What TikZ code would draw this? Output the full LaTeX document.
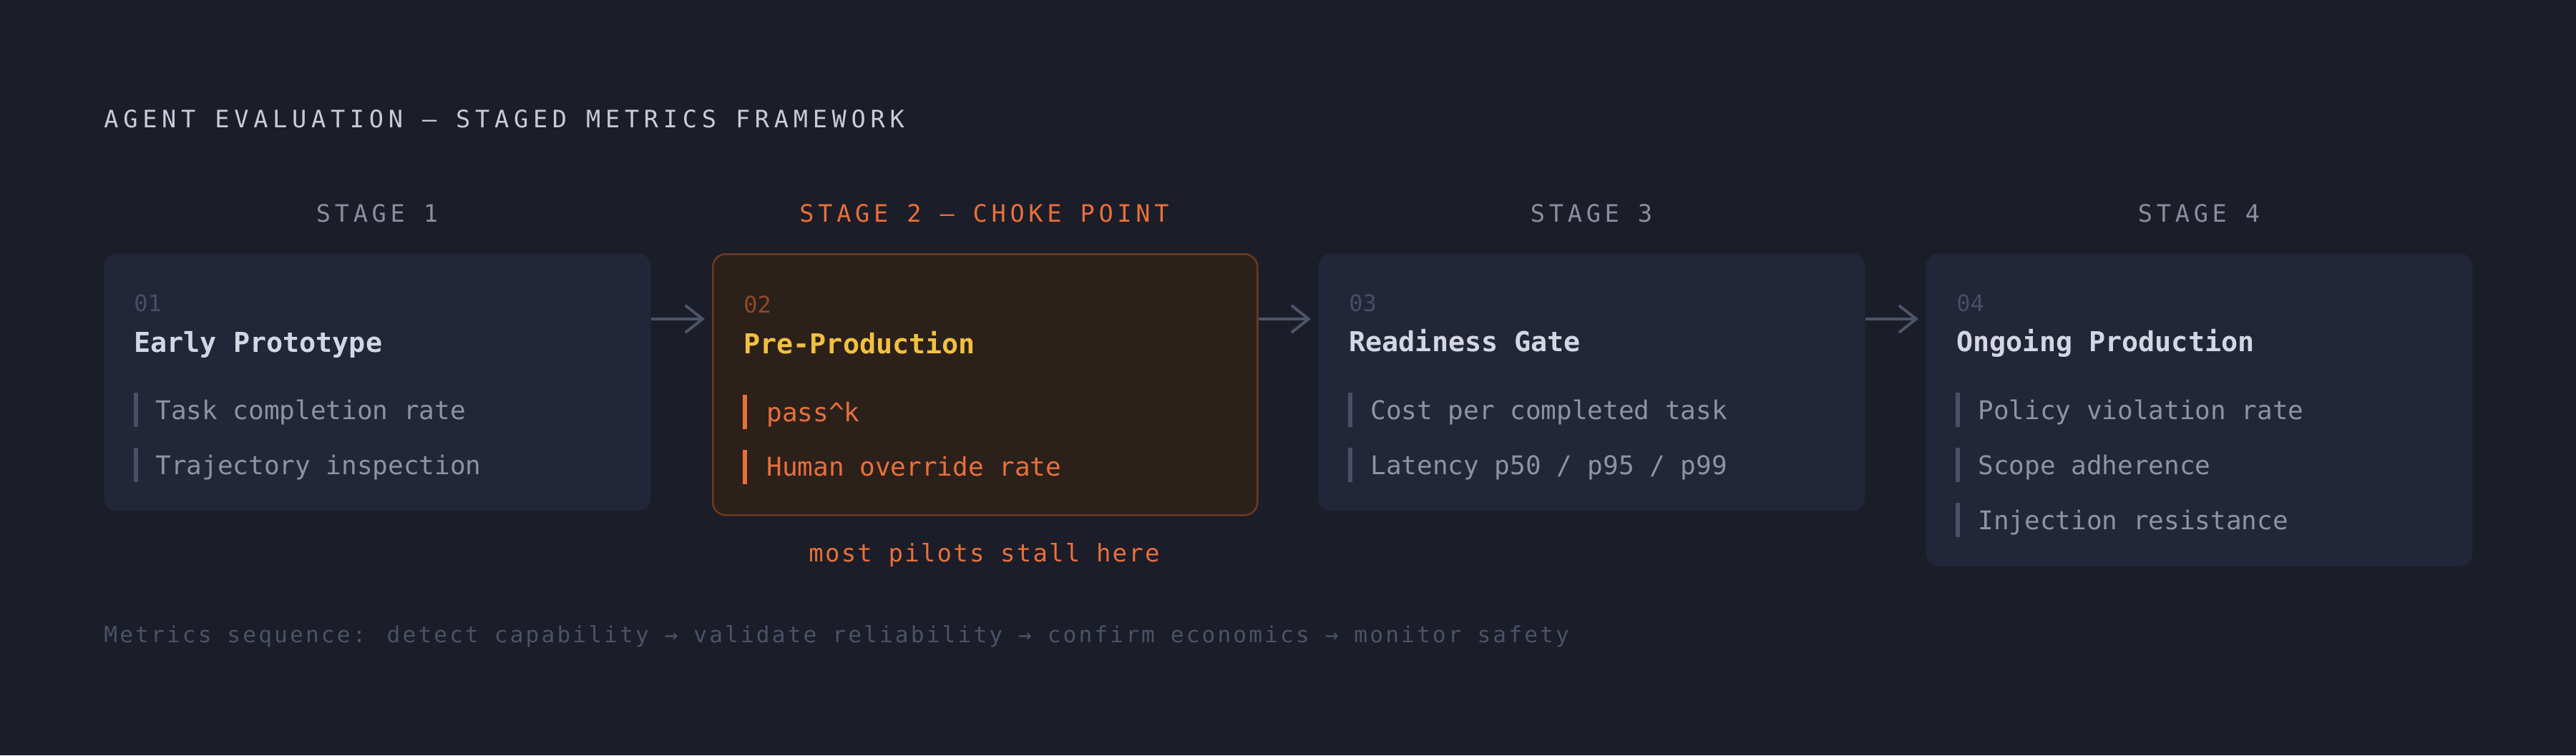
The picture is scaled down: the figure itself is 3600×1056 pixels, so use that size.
\documentclass[tikz,border=0pt]{standalone}
\usepackage{fontspec}
\usetikzlibrary{arrows.meta}
\newfontfamily\monoF{DejaVu Sans Mono}
\newfontfamily\monoTitle[LetterSpace=20]{DejaVu Sans Mono}
\newfontfamily\monoStage[LetterSpace=17]{DejaVu Sans Mono}
\newfontfamily\monoFoot[LetterSpace=10]{DejaVu Sans Mono}
\newfontfamily\monoNote[LetterSpace=6.5]{DejaVu Sans Mono}
\definecolor{bgc}{HTML}{1B1D29}
\definecolor{boxc}{HTML}{222639}
\definecolor{boxhot}{HTML}{2C201B}
\definecolor{borderhot}{HTML}{6E3A1E}
\definecolor{arrowc}{HTML}{4A5568}
\definecolor{titlec}{HTML}{C9CCD8}
\definecolor{stagec}{HTML}{8A8F9F}
\definecolor{orangec}{HTML}{E8703A}
\definecolor{numc}{HTML}{464F63}
\definecolor{numhot}{HTML}{8C4A26}
\definecolor{headc}{HTML}{D4D7E3}
\definecolor{headhot}{HTML}{F0C140}
\definecolor{itemc}{HTML}{8E93A4}
\definecolor{barc}{HTML}{4A5166}
\definecolor{footc}{HTML}{4A5366}
\tikzset{
  txt/.style={inner sep=0pt, anchor=base west},
  ctxt/.style={inner sep=0pt, anchor=base},
  titletext/.style={txt, text=titlec, font=\monoTitle\fontsize{16.8}{20}\selectfont},
  stagetext/.style={ctxt, text=stagec, font=\monoStage\fontsize{16.8}{20}\selectfont},
  stagehot/.style={stagetext, text=orangec},
  card/.style={draw=none, fill=boxc, rounded corners=9pt, anchor=north west, inner sep=0pt, minimum width=382pt},
  cardhot/.style={card, fill=boxhot, draw=borderhot, line width=1.25pt, minimum width=380.5pt},
  numtext/.style={txt, text=numc, font=\monoF\fontsize{16}{19}\selectfont},
  numhottext/.style={numtext, text=numhot},
  headtext/.style={txt, text=headc, font=\monoF\bfseries\fontsize{19.2}{23}\selectfont},
  headhottext/.style={headtext, text=headhot},
  itemtext/.style={txt, text=itemc, font=\monoF\fontsize{18}{21}\selectfont},
  itemhot/.style={itemtext, text=orangec},
  bar/.style={fill=barc, draw=none},
  barhot/.style={fill=orangec, draw=none},
  conn/.style={draw=arrowc, line width=2pt, -{Straight Barb[length=12pt, width=19pt, line width=2pt]}, shorten >=5pt},
  foottext/.style={txt, text=footc, font=\monoFoot\fontsize{15.6}{19}\selectfont},
  notetext/.style={ctxt, text=orangec, font=\monoNote\fontsize{17}{20}\selectfont},
}
\begin{document}
\begin{tikzpicture}[x=0.5pt, y=-0.5pt]
\fill[bgc] (0,0) rectangle (3600,1056);
\useasboundingbox (0,0) rectangle (3600,1056);

\node[titletext] (title) at (145,178) {AGENT EVALUATION — STAGED METRICS FRAMEWORK};

% stage labels
\node[stagetext] (s1) at (527,310) {STAGE 1};
\node[stagehot]  (s2) at (1375.5,310) {STAGE 2 — CHOKE POINT};
\node[stagetext] (s3) at (2224,310) {STAGE 3};
\node[stagetext] (s4) at (3073,310) {STAGE 4};

% cards
\node[card, minimum height=180pt] (b1) at (145,354) {};
\node[cardhot, minimum height=182.5pt] (b2) at (995,354) {};
\node[card, minimum height=180pt] (b3) at (1842,354) {};
\node[card, minimum height=218.5pt] (b4) at (2691,354) {};

% card 1
\node[numtext]  (n1) at (187,435) {01};
\node[headtext] (h1) at (187,492) {Early Prototype};
\fill[bar] (187,549) rectangle (193,597);
\node[itemtext] (i11) at (217,586) {Task completion rate};
\fill[bar] (187,626) rectangle (193,674);
\node[itemtext] (i12) at (217,663) {Trajectory inspection};

% card 2
\node[numhottext]  (n2) at (1039,437) {02};
\node[headhottext] (h2) at (1039,494) {Pre-Production};
\fill[barhot] (1038,552) rectangle (1044,600);
\node[itemhot] (i21) at (1071,589) {pass\^{}k};
\fill[barhot] (1038,629) rectangle (1044,677);
\node[itemhot] (i22) at (1071,665) {Human override rate};
\node[notetext] (note) at (1375.5,785) {most pilots stall here};

% card 3
\node[numtext]  (n3) at (1885,435) {03};
\node[headtext] (h3) at (1885,491) {Readiness Gate};
\fill[bar] (1884,549) rectangle (1890,597);
\node[itemtext] (i31) at (1915,586) {Cost per completed task};
\fill[bar] (1884,626) rectangle (1890,674);
\node[itemtext] (i32) at (1915,663) {Latency p50 / p95 / p99};

% card 4
\node[numtext]  (n4) at (2734,435) {04};
\node[headtext] (h4) at (2734,491) {Ongoing Production};
\fill[bar] (2733,549) rectangle (2739,597);
\node[itemtext] (i41) at (2764,586) {Policy violation rate};
\fill[bar] (2733,626) rectangle (2739,674);
\node[itemtext] (i42) at (2764,663) {Scope adherence};
\fill[bar] (2733,703) rectangle (2739,751);
\node[itemtext] (i43) at (2764,740) {Injection resistance};

% connectors
\draw[conn] ([yshift=-46pt]b1.north east) -- ([yshift=-46pt]b2.north west);
\draw[conn] ([yshift=-46pt]b2.north east) -- ([yshift=-46pt]b3.north west);
\draw[conn] ([yshift=-46pt]b3.north east) -- ([yshift=-46pt]b4.north west);

\node[foottext] (foot) at (145,898) {Metrics sequence: detect capability → validate reliability → confirm economics → monitor safety};
\end{tikzpicture}
\end{document}
